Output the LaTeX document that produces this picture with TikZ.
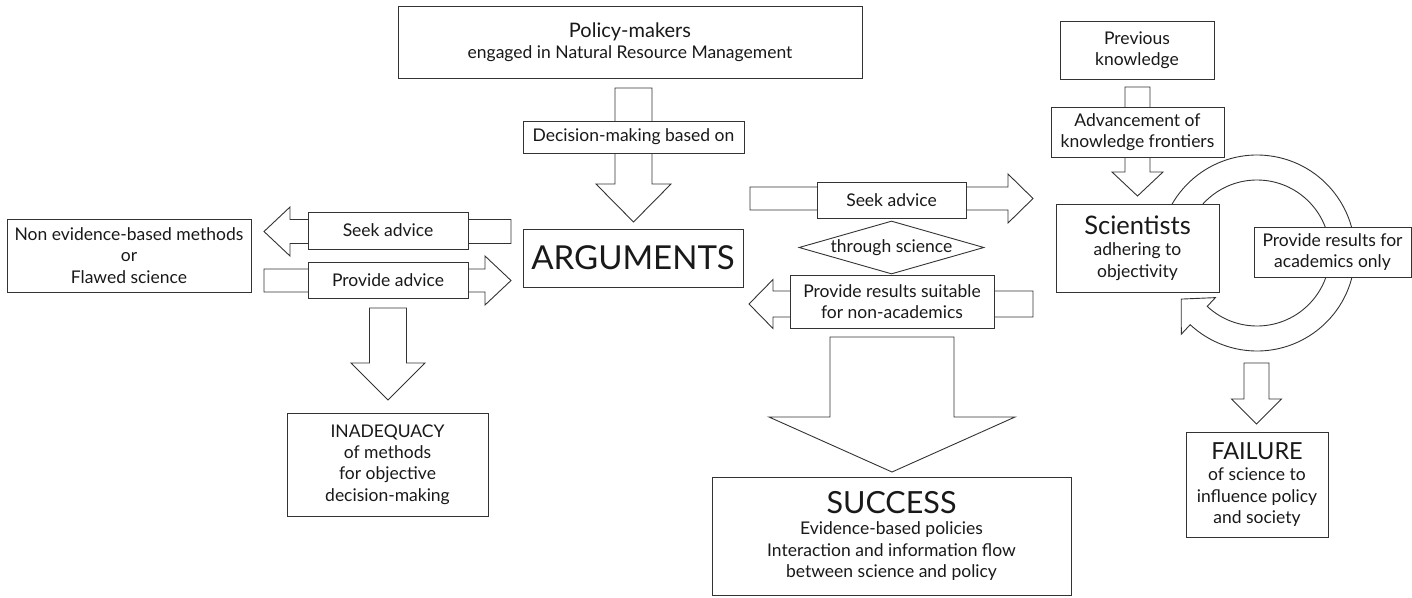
\documentclass[tikz,border=0pt]{standalone}
\usepackage{fontspec}
\setmainfont{Lato}
\usetikzlibrary{shapes.geometric,calc}

% font sizes used in the boxes
\newcommand{\txtbody}{\fontsize{17.5}{21.5}\selectfont}
\newcommand{\bigline}[2]{{\fontsize{#1}{21.5}\selectfont #2}}

% downward block arrow: centre x, top y, y where the head starts, tip y, shaft half width, head half width
\newcommand{\blockdown}[6]{%
  \draw[blockarrow] ({#1-#5},#2) -- ({#1+#5},#2) -- ({#1+#5},#3) -- ({#1+#6},#3)
    -- (#1,#4) -- ({#1-#6},#3) -- ({#1-#5},#3) -- cycle;}
% horizontal block arrow: centre y, tail x, x where the head starts, tip x, shaft half, head half
\newcommand{\blockside}[6]{%
  \draw[blockarrow] (#2,{#1-#5}) -- (#3,{#1-#5}) -- (#3,{#1-#6}) -- (#4,#1)
    -- (#3,{#1+#6}) -- (#3,{#1+#5}) -- (#2,{#1+#5}) -- cycle;}

\tikzset{
  ink/.style={draw=black!80, line width=0.9pt},
  box/.style={ink, fill=white, rectangle, inner sep=0pt, align=center,
    text=black!90, font=\txtbody,
    execute at begin node={\lineskiplimit=-1000pt\relax}},
  blockarrow/.style={ink, fill=white, line join=miter},
  ring/.style={ink, fill=white},
}

\begin{document}
\begin{tikzpicture}[x=1pt, y=-1pt]
\useasboundingbox (0,0) rectangle (1412,597);

% ---------- block arrows (drawn first, boxes sit on top) ----------
\blockdown{633.5}{88}{184}{222}{18.5}{37.5}
\blockside{231.5}{511}{290}{264}{12}{24.5}
\blockside{280.5}{264}{485}{511}{11.5}{24.5}
\blockdown{388}{308}{363}{400}{18.5}{37}
\blockside{198.5}{750}{1008}{1033}{11.5}{24.5}
\blockside{304}{1033}{773}{749}{13}{24.5}
\blockdown{892}{337}{417}{472}{62}{123}
\blockdown{1137.5}{87}{172}{196}{12.5}{25.5}
\blockdown{1256.5}{363}{399}{424}{12.5}{25}

% ---------- circular arrow around the scientists ----------
\coordinate (rc) at (1257,253);
\draw[ring] ([shift={(-170:98)}]rc) arc[start angle=-170, end angle=133, radius=98]
  -- ([shift={(133:111)}]rc) -- ([shift={(148.7:88.7)}]rc)
  -- ([shift={(133:61)}]rc) -- ([shift={(133:73)}]rc)
  arc[start angle=133, end angle=-170, radius=73] -- cycle;

% ---------- boxes ----------
\node[box, minimum width=464, minimum height=72] (policy) at (630,42)
  {\bigline{20}{Policy-makers}\\engaged in Natural Resource Management};
\node[box, minimum width=221, minimum height=32] (decision) at (633.5,137)
  {Decision-making based on};
\node[box, minimum width=220, minimum height=58] (arguments) at (633,258)
  {\bigline{33}{ARGUMENTS}};

\node[box, minimum width=244, minimum height=73] (nonev) at (129,255.5)
  {Non evidence-based methods\\or\\Flawed science};
\node[box, minimum width=160, minimum height=37] (seekleft) at (388,230.5)
  {Seek advice};
\node[box, minimum width=160, minimum height=36] (provleft) at (388,280)
  {Provide advice};
\node[box, minimum width=201, minimum height=103] (inadequacy) at (387.5,464.5)
  {INADEQUACY\\of methods\\for objective\\decision-making};

\node[box, minimum width=149, minimum height=36] (seekright) at (891.5,200)
  {Seek advice};
\node[box, diamond, minimum width=185, minimum height=53, shape aspect=3.5]
  (through) at (891.5,247.5) {through science};
\node[box, minimum width=204, minimum height=53] (provright) at (892,301.5)
  {Provide results suitable\\for non-academics};
\node[box, minimum width=359, minimum height=118] (success) at (891.5,536)
  {\bigline{30.5}{SUCCESS}\\Evidence-based policies\\Interaction and information flow\\between science and policy};

\node[box, minimum width=154, minimum height=58] (previous) at (1137,50)
  {Previous\\knowledge};
\node[box, minimum width=173, minimum height=50] (advance) at (1137.5,132)
  {Advancement of\\knowledge frontiers};
\node[box, minimum width=163, minimum height=88] (scientists) at (1137.5,248)
  {\bigline{25.5}{Scientists}\\adhering to\\objectivity};
\node[box, minimum width=157, minimum height=50] (academics) at (1332.5,252)
  {Provide results for\\academics only};
\node[box, minimum width=142, minimum height=105] (failure) at (1257,484.5)
  {\bigline{23.5}{FAILURE}\\of science to\\influence policy\\and society};
\end{tikzpicture}
\end{document}
